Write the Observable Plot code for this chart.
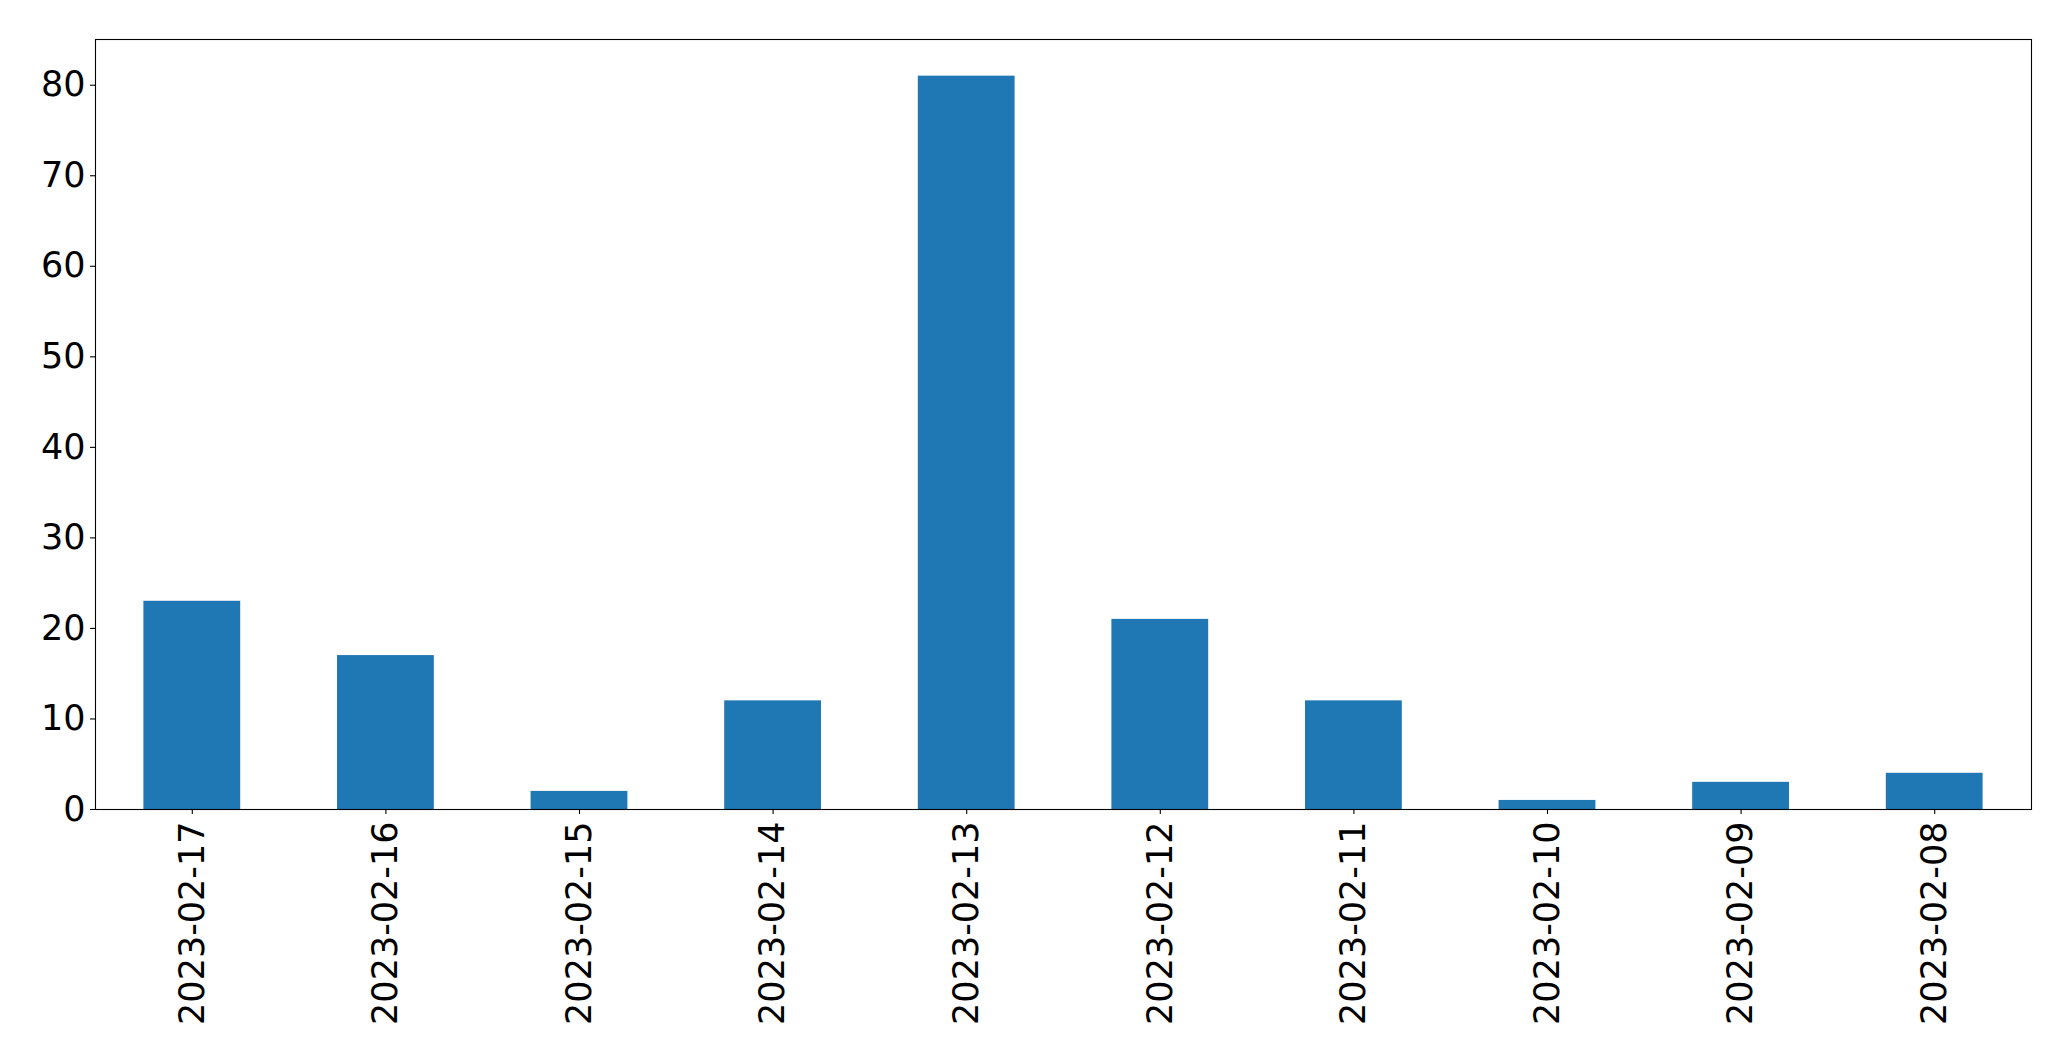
<!DOCTYPE html>
<html>
<head>
<meta charset="utf-8">
<script src="https://cdn.jsdelivr.net/npm/d3@7"></script>
<script src="https://cdn.jsdelivr.net/npm/@observablehq/plot@0.6"></script>
<style>
  html, body { margin: 0; padding: 0; background: #fff; }
</style>
</head>
<body>
<div id="chart"></div>
<script>
const dates = ["2023-02-17","2023-02-16","2023-02-15","2023-02-14","2023-02-13","2023-02-12","2023-02-11","2023-02-10","2023-02-09","2023-02-08"];
const counts = [23, 17, 2, 12, 81, 21, 12, 1, 3, 4];
const yTicks = [0, 10, 20, 30, 40, 50, 60, 70, 80];

const data = dates.map((d, i) => ({date: d, count: counts[i]}));

const chart = Plot.plot({
  width: 2071,
  height: 1061,
  marginLeft: 95,
  marginRight: 40,
  marginTop: 39,
  marginBottom: 252,
  style: {fontFamily: "DejaVu Sans", background: "white", color: "black"},
  x: {domain: dates, paddingInner: 0.5, paddingOuter: 0.25, round: false, label: null},
  y: {domain: [0, 85.05], ticks: yTicks, label: null},
  marks: [
    Plot.barY(data, {x: "date", y: "count", fill: "#1f77b4"}),
    Plot.axisY({ticks: yTicks, tickSize: 5, tickPadding: 5, fontSize: 35, label: null, stroke: "black", strokeWidth: 1.1}),
    Plot.axisX({tickSize: 5, tickPadding: 7, fontSize: 35, tickRotate: -90, label: null, stroke: "black", strokeWidth: 1.1}),
    Plot.frame({stroke: "black", strokeWidth: 1.1})
  ]
});
document.getElementById("chart").appendChild(chart);
</script>
</body>
</html>
